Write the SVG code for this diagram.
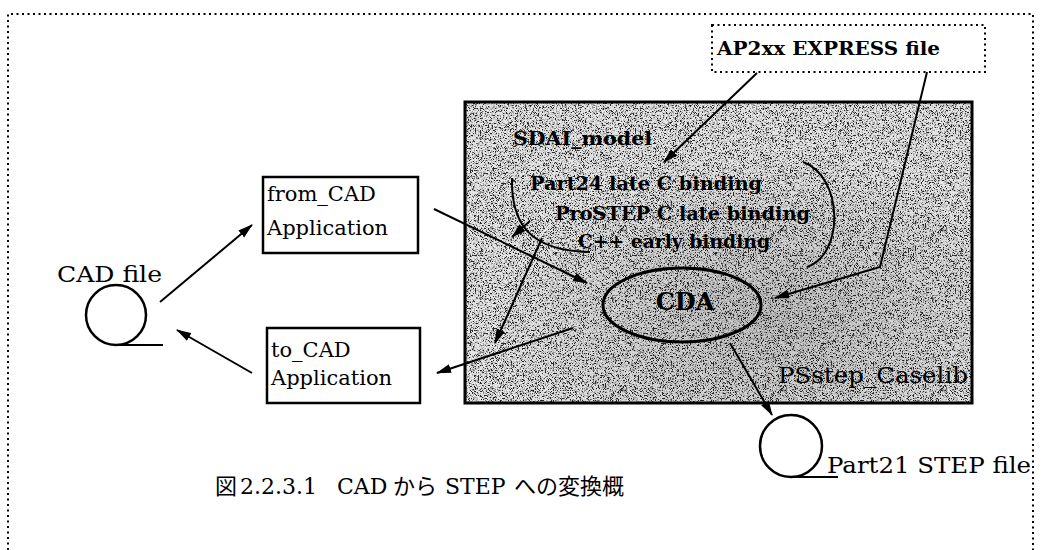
<svg xmlns="http://www.w3.org/2000/svg" width="1042" height="550" viewBox="0 0 1042 550">
  <style>
    .serif { font-family: "DejaVu Serif", "Liberation Serif", serif; fill: #000; }
    .bold { font-weight: bold; }
    .box { fill: #fff; stroke: #000; stroke-width: 2.5; }
    .dotted { fill: none; stroke: #000; stroke-width: 2; stroke-dasharray: 2 3.5; }
    .edge { fill: none; stroke: #000; stroke-width: 2; }
    .arrow { marker-end: url(#head); }
    .reel { fill: #fff; stroke: #000; stroke-width: 2.5; }
    .cap { font-family: "DejaVu Serif", "Noto Sans CJK JP", serif; font-size: 22px; fill: #000; }
  </style>
  <defs>
    <marker id="head" markerUnits="userSpaceOnUse" markerWidth="15" markerHeight="10" refX="14" refY="5" orient="auto">
      <path d="M0,0.5 L15,5 L0,9.5 Z" fill="#000"/>
    </marker>
    <!-- fine halftone speckle for the library panel -->
    <filter id="grain" x="0" y="0" width="1" height="1" filterUnits="objectBoundingBox">
      <feTurbulence type="fractalNoise" baseFrequency="1.6" numOctaves="1" seed="11" result="noise"/>
      <feColorMatrix in="noise" type="matrix" values="0.33 0.33 0.33 0 0  0.33 0.33 0.33 0 0  0.33 0.33 0.33 0 0  0 0 0 0 1" result="mono"/>
      <feComponentTransfer in="mono" result="bw">
        <feFuncR type="linear" slope="10" intercept="-4.2"/>
        <feFuncG type="linear" slope="10" intercept="-4.2"/>
        <feFuncB type="linear" slope="10" intercept="-4.2"/>
      </feComponentTransfer>
      <feComposite in="bw" in2="SourceGraphic" operator="in"/>
    </filter>
    <radialGradient id="shade" cx="0.6" cy="0.72" r="0.55">
      <stop offset="0" stop-color="#000" stop-opacity="0.16"/>
      <stop offset="1" stop-color="#000" stop-opacity="0"/>
    </radialGradient>
  </defs>

  <rect width="1042" height="550" fill="#fff"/>

  <!-- outer dotted frame -->
  <path class="dotted" d="M8,550 V14 H1033 V550"/>

  <!-- PSstep_Caselib panel -->
  <g id="caselib">
    <rect x="465" y="102" width="507" height="301" fill="#fff" filter="url(#grain)"/>
    <rect x="465" y="102" width="507" height="301" fill="#a0a0a0" opacity="0.25"/>
    <rect x="465" y="102" width="507" height="301" fill="url(#shade)"/>
    <rect x="465" y="102" width="507" height="301" fill="none" stroke="#000" stroke-width="3"/>
    <text class="serif" x="778" y="383" font-size="22" textLength="190" lengthAdjust="spacingAndGlyphs">PSstep_Caselib</text>
  </g>

  <g id="sdai-model">
    <text class="serif bold" x="513" y="145" font-size="19" textLength="139" lengthAdjust="spacingAndGlyphs">SDAI_model</text>
    <text class="serif bold" x="530" y="190" font-size="19" textLength="232" lengthAdjust="spacingAndGlyphs">Part24 late C binding</text>
    <text class="serif bold" x="555" y="220" font-size="19" textLength="255" lengthAdjust="spacingAndGlyphs">ProSTEP C late binding</text>
    <text class="serif bold" x="578" y="248" font-size="19" textLength="192" lengthAdjust="spacingAndGlyphs">C++ early binding</text>
    <path class="edge" d="M512,178 C511,222 528,251 590,252"/>
    <path class="edge" d="M803,162 C843,176 845,254 807,267"/>
  </g>

  <g id="cda">
    <ellipse cx="682" cy="305" rx="79" ry="37" fill="none" stroke="#000" stroke-width="3"/>
    <text class="serif bold" x="685" y="310" font-size="24" text-anchor="middle">CDA</text>
  </g>

  <g id="express-file">
    <rect class="dotted" x="712" y="25" width="273" height="47"/>
    <text class="serif bold" x="717" y="55" font-size="19" textLength="223" lengthAdjust="spacingAndGlyphs">AP2xx EXPRESS file</text>
  </g>

  <g id="cad-file">
    <text class="serif" x="57" y="282" font-size="22" textLength="105" lengthAdjust="spacingAndGlyphs">CAD file</text>
    <circle class="reel" cx="116" cy="315" r="30"/>
    <path class="edge" d="M116,345 H163" stroke-width="2.5"/>
  </g>

  <g id="from-cad">
    <rect class="box" x="263" y="177" width="155" height="76"/>
    <text class="serif" x="267" y="201" font-size="21">from_CAD</text>
    <text class="serif" x="267" y="235" font-size="21">Application</text>
  </g>

  <g id="to-cad">
    <rect class="box" x="267" y="328" width="153" height="75"/>
    <text class="serif" x="271" y="357" font-size="21">to_CAD</text>
    <text class="serif" x="271" y="385" font-size="21">Application</text>
  </g>

  <g id="step-file">
    <circle class="reel" cx="791" cy="446" r="31"/>
    <path class="edge" d="M791,477 H838" stroke-width="2.5"/>
    <text class="serif" x="827" y="473" font-size="23" textLength="204" lengthAdjust="spacingAndGlyphs">Part21 STEP file</text>
  </g>

  <!-- connectors -->
  <g id="connectors">
    <path class="edge arrow" d="M160,302 L252,225"/>
    <path class="edge arrow" d="M252,373 L177,330"/>
    <path class="edge arrow" d="M434,209 L587,283"/>
    <path class="edge arrow" d="M573,328 L437,373"/>
    <path class="edge arrow" d="M542,238 L495,343"/>
    <path class="edge arrow" d="M530,221 L512,237"/>
    <path class="edge arrow" d="M757,73 L664,162"/>
    <path class="edge arrow" d="M927,72 L880,267 L775,298"/>
    <path class="edge arrow" d="M730,343 L772,415"/>
  </g>

  <!-- caption -->
  <text class="cap" y="494">
    <tspan x="215">図</tspan><tspan x="240">2.2.3.1</tspan><tspan x="337">CAD</tspan><tspan x="393">から</tspan><tspan x="445">STEP</tspan><tspan x="514">への変換概</tspan>
  </text>
</svg>
